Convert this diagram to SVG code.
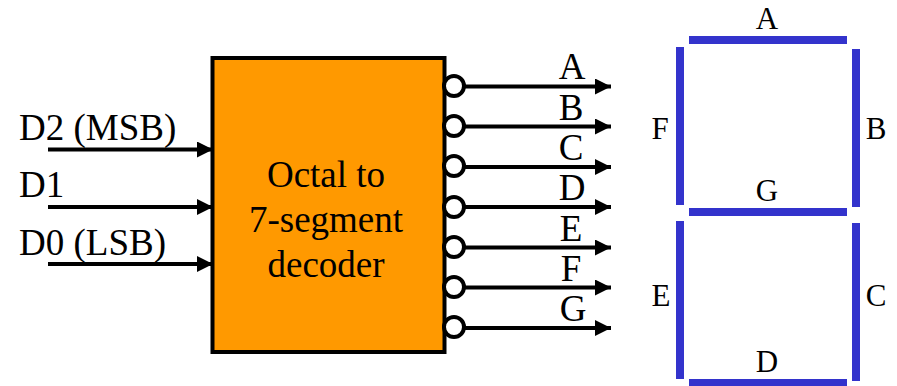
<svg xmlns="http://www.w3.org/2000/svg" width="897" height="386" viewBox="0 0 897 386">
<style>
text{font-family:"Liberation Serif","Times New Roman",serif;fill:#000}
.l{font-size:37px}
.s{font-size:31px}
.m{text-anchor:middle}
.w{stroke:#000;stroke-width:4;fill:none}
.seg{fill:#3333cc}
.b{fill:#fff;stroke:#000;stroke-width:4}
</style>
<defs><marker id="a" markerUnits="userSpaceOnUse" markerWidth="16" markerHeight="16" refX="16" refY="8" orient="auto"><path d="M0 0L16 8L0 16Z" fill="#000"/></marker></defs>
<rect width="897" height="386" fill="#fff"/>
<g id="decoder"><rect x="212.500" y="58" width="232" height="294" fill="#ff9900" stroke="#000" stroke-width="4"/>
<text class="l m" x="326" y="187">Octal to</text><text class="l m" x="326" y="232">7-segment</text><text class="l m" x="326" y="277">decoder</text></g>
<g id="connectors">
<path class="w" marker-end="url(#a)" d="M48 149.500H213"/>
<path class="w" marker-end="url(#a)" d="M48 207H213"/>
<path class="w" marker-end="url(#a)" d="M48 264H213"/>
<path class="w" marker-end="url(#a)" d="M464 86.500H611"/>
<path class="w" marker-end="url(#a)" d="M464 126.500H611"/>
<path class="w" marker-end="url(#a)" d="M464 167H611"/>
<path class="w" marker-end="url(#a)" d="M464 207H611"/>
<path class="w" marker-end="url(#a)" d="M464 247.500H611"/>
<path class="w" marker-end="url(#a)" d="M464 287.500H611"/>
<path class="w" marker-end="url(#a)" d="M464 328H611"/>
</g>
<g id="bubbles">
<circle class="b" cx="454" cy="86" r="10"/><circle class="b" cx="454" cy="126" r="10"/><circle class="b" cx="454" cy="166" r="10"/><circle class="b" cx="454" cy="207" r="10"/><circle class="b" cx="454" cy="247" r="10"/><circle class="b" cx="454" cy="287" r="10"/><circle class="b" cx="454" cy="327" r="10"/>
</g>
<g id="inputs"><text class="l" x="19" y="140">D2 (MSB)</text><text class="l" x="19" y="197">D1</text><text class="l" x="19" y="255">D0 (LSB)</text></g>
<g id="outputs">
<text class="l m" x="572" y="79">A</text><text class="l m" x="571" y="120">B</text><text class="l m" x="571" y="160">C</text><text class="l m" x="572" y="200">D</text><text class="l m" x="571" y="241">E</text><text class="l m" x="571" y="281">F</text><text class="l m" x="573" y="321">G</text>
</g>
<g id="segments">
<rect class="seg" x="689" y="36" width="158" height="8"/>
<rect class="seg" x="689" y="208" width="158" height="8"/>
<rect class="seg" x="689" y="379" width="158" height="8"/>
<rect class="seg" x="676" y="47" width="8" height="158"/>
<rect class="seg" x="852" y="49" width="8" height="158"/>
<rect class="seg" x="676" y="221" width="8" height="158"/>
<rect class="seg" x="852" y="223" width="8" height="158"/>
<text class="s m" x="767" y="29">A</text><text class="s m" x="876" y="139">B</text><text class="s m" x="876" y="306">C</text><text class="s m" x="767" y="372">D</text><text class="s m" x="661" y="306">E</text><text class="s m" x="660" y="139">F</text><text class="s m" x="767" y="201">G</text>
</g>
</svg>
